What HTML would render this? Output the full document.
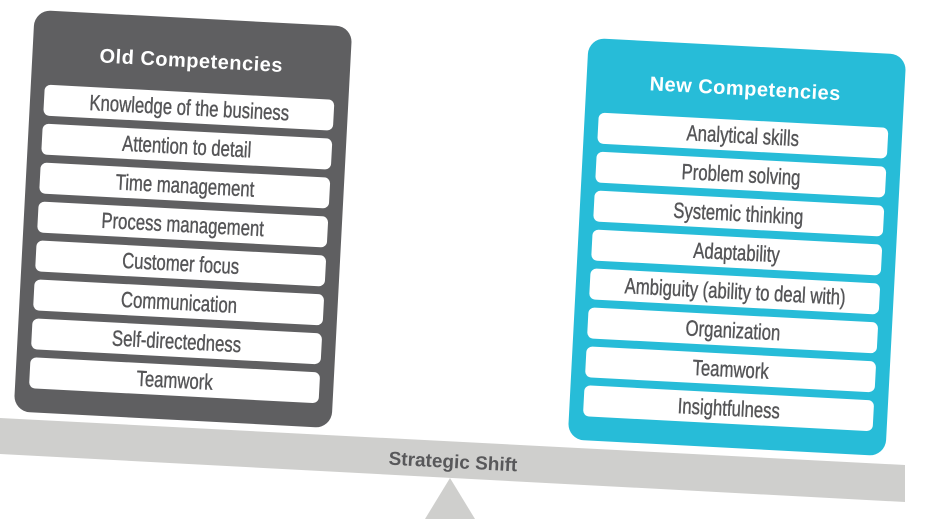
<!DOCTYPE html>
<html><head><meta charset="utf-8"><style>
body{margin:0;width:943px;height:531px;background:#fff;position:relative;overflow:hidden;font-family:"Liberation Sans",sans-serif}
.panel{position:absolute;width:318px;height:402px;border-radius:16px;transform:rotate(3deg)}
.title{position:absolute;top:32px;left:0;right:0;text-align:center;color:#fff;font-weight:bold;font-size:20px;letter-spacing:0.5px}
.row{position:absolute;left:14px;right:14px;height:31px;background:#fff;border-radius:6px;text-align:center;line-height:31px;color:#555557;font-size:22px;-webkit-text-stroke:0.4px #555557}
.row span{display:inline-block;transform:scaleX(0.76);white-space:nowrap}
</style></head><body>
<svg width="943" height="531" style="position:absolute;left:0;top:0">
<polygon points="0,418 905,465 905,502 0,454" fill="#cfcfcd"/>
<polygon points="450,478 475,519 425,519" fill="#cfcfcd"/>
<text x="453" y="468" text-anchor="middle" transform="rotate(3 453 462)" font-family="Liberation Sans" font-weight="bold" font-size="19" fill="#58585a">Strategic Shift</text>
</svg>
<div class="panel" style="left:24px;top:18px;background:#5f5f61">
<div class="title">Old Competencies</div>
<div class="row" style="top:74px"><span>Knowledge of the business</span></div>
<div class="row" style="top:113px"><span>Attention to detail</span></div>
<div class="row" style="top:152px"><span>Time management</span></div>
<div class="row" style="top:191px"><span>Process management</span></div>
<div class="row" style="top:230px"><span>Customer focus</span></div>
<div class="row" style="top:269px"><span>Communication</span></div>
<div class="row" style="top:308px"><span>Self-directedness</span></div>
<div class="row" style="top:347px"><span>Teamwork</span></div>
</div>
<div class="panel" style="left:578px;top:46px;background:#27bcd8">
<div class="title">New Competencies</div>
<div class="row" style="top:74px"><span>Analytical skills</span></div>
<div class="row" style="top:113px"><span>Problem solving</span></div>
<div class="row" style="top:152px"><span>Systemic thinking</span></div>
<div class="row" style="top:191px"><span>Adaptability</span></div>
<div class="row" style="top:230px"><span>Ambiguity (ability to deal with)</span></div>
<div class="row" style="top:269px"><span>Organization</span></div>
<div class="row" style="top:308px"><span>Teamwork</span></div>
<div class="row" style="top:347px"><span>Insightfulness</span></div>
</div>
</body></html>
